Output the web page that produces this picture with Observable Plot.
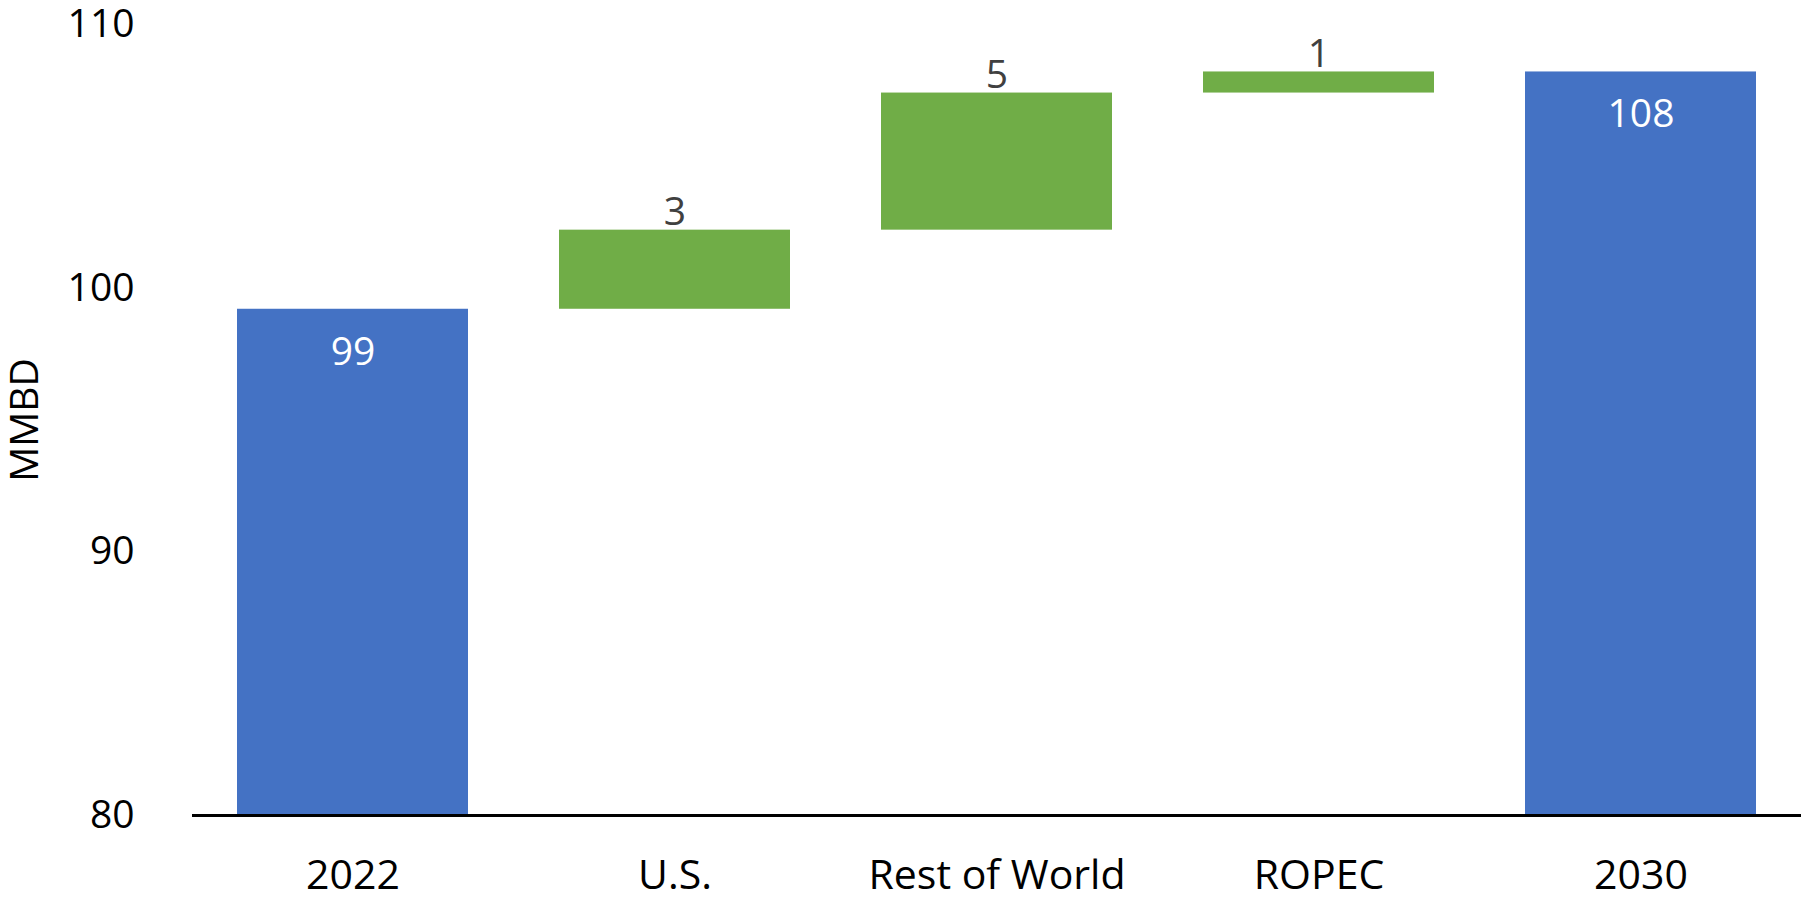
<!DOCTYPE html>
<html><head><meta charset="utf-8">
<script src="https://cdn.jsdelivr.net/npm/d3@7"></script>
<script src="https://cdn.jsdelivr.net/npm/@observablehq/plot@0.6"></script>
<style>html,body{margin:0;padding:0;background:#fff}</style>
</head><body><div id="chart"></div>
<script>
const categories = ["2022", "U.S.", "Rest of World", "ROPEC", "2030"];
const values = [99.2, 3.0, 5.2, 0.8, 108.2];
const kinds = ["total", "delta", "delta", "delta", "total"];
const valueLabels = ["99", "3", "5", "1", "108"];
const yTicks = [80, 90, 100, 110];
const colors = {total: "#4472C4", delta: "#70AD47"};

const base = yTicks[0];
const rows = [];
let running = base;
categories.forEach((c, i) => {
  let y1, y2;
  if (kinds[i] === "total") { y1 = base; y2 = values[i]; running = values[i]; }
  else { y1 = running; y2 = running + values[i]; running = y2; }
  rows.push({cat: c, y1, y2, kind: kinds[i], label: valueLabels[i]});
});

const chart = Plot.plot({
  width: 1801, height: 900,
  marginLeft: 192, marginRight: 0, marginTop: 24, marginBottom: 85,
  style: {fontFamily: "'Open Sans', sans-serif", fontSize: "39px", color: "#000", background: "#fff"},
  color: {type: "identity"},
  x: {domain: categories, paddingInner: 0.283, paddingOuter: 0.138},
  y: {domain: [yTicks[0], yTicks[yTicks.length - 1]]},
  marks: [
    Plot.barY(rows, {x: "cat", y1: "y1", y2: "y2", fill: d => colors[d.kind]}),
    Plot.ruleY([base], {stroke: "#000", strokeWidth: 3}),
    Plot.axisX({tickSize: 0, tickPadding: 44, fontSize: 41, label: null}),
    Plot.axisY({ticks: yTicks, tickSize: 0, tickPadding: 58, fontSize: 39,
      label: "MMBD", labelAnchor: "center", labelArrow: "none", labelOffset: 182}),
    Plot.text(rows.filter(d => d.kind === "total"), {x: "cat", y: "y2", text: "label", fill: "#fff", fontSize: 39, dy: 43}),
    Plot.text(rows.filter(d => d.kind === "delta"), {x: "cat", y: "y2", text: "label", fill: "#404040", fontSize: 39, lineAnchor: "bottom", dy: -5})
  ]
});
document.getElementById("chart").appendChild(chart);
</script>
</body></html>
